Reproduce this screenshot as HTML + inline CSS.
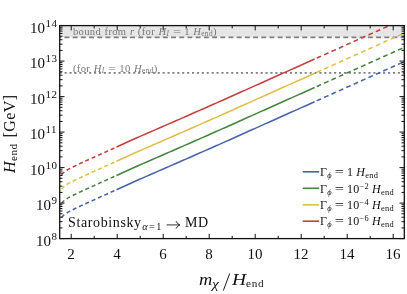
<!DOCTYPE html>
<html><head><meta charset="utf-8"><style>
html,body{margin:0;padding:0;background:#fff}
body{width:407px;height:294px;position:relative;overflow:hidden;font-family:"Liberation Serif",serif;color:#111}
.t{position:absolute;white-space:nowrap;line-height:1;transform-origin:0 0;will-change:transform}
.yt{font-size:15px}
.yt sup{font-size:11px;vertical-align:baseline;position:relative;top:-5.8px;left:0.6px;letter-spacing:0.3px}
.xt{font-size:15px;width:40px;text-align:center}
i{font-style:italic}
.eq{display:inline-block;transform:scaleX(1.35);margin:0 0.08em}
sub{font-size:70%;vertical-align:baseline;position:relative;top:0.2em}
sup.s{font-size:70%;vertical-align:baseline;position:relative;top:-0.45em}
.lg{font-size:12px;left:320.3px;letter-spacing:0.3px;word-spacing:-0.3px}
.an{font-size:10.6px;color:#777;letter-spacing:0.32px;word-spacing:0.5px}
</style></head><body>
<svg width="407" height="294" viewBox="0 0 407 294" style="position:absolute;left:0;top:0">
<defs><clipPath id="c"><rect x="59.7" y="25.6" width="344.6" height="213.0"/></clipPath></defs>
<rect x="59.7" y="25.6" width="344.6" height="11.799999999999997" fill="#e6e6e6"/>
<line x1="59.7" x2="404.3" y1="37.4" y2="37.4" stroke="#7f7f7f" stroke-width="1.6" stroke-dasharray="4.9 3.3" stroke-dashoffset="3.4"/>
<line x1="59.7" x2="404.3" y1="72.9" y2="72.9" stroke="#7f7f7f" stroke-width="1.8" stroke-dasharray="2.1 2.8"/>
<g clip-path="url(#c)" fill="none" stroke="#c4403f" stroke-width="1.55">
<polyline points="59.70,177.67 60.64,176.44 61.58,174.87 62.52,173.74 63.45,172.75 64.39,171.98 65.33,171.21 66.27,170.58 67.21,169.99 68.15,169.40 69.08,168.92 70.02,168.44 70.96,167.97 71.90,167.50 72.84,167.02 73.78,166.55 74.71,166.08 75.65,165.62 76.59,165.18 77.53,164.74 78.47,164.30 79.41,163.86 80.34,163.42 81.28,162.98 82.22,162.54 83.16,162.10 84.10,161.66 85.03,161.22 85.97,160.80 86.91,160.38 87.85,159.95 88.79,159.53 89.73,159.11 90.66,158.69 91.60,158.26 92.54,157.84 93.48,157.42 94.42,156.99 95.36,156.57 96.30,156.15 97.23,155.72 98.17,155.30 99.11,154.88 100.05,154.45 100.99,154.03 101.93,153.61 102.86,153.18 103.80,152.76 104.74,152.34 105.68,151.92 106.62,151.49 107.56,151.07 108.49,150.65 109.43,150.22 110.37,149.80 111.31,149.38 112.25,148.95 113.19,148.53 114.12,148.11 115.06,147.68 116.00,147.26" stroke-dasharray="4.05 2.9" stroke-dashoffset="3.69"/>
<polyline points="116.50,147.03 119.80,145.54 123.10,144.05 126.41,142.56 129.71,141.07 133.01,139.58 136.31,138.08 139.61,136.59 142.91,135.15 146.22,133.71 149.52,132.27 152.82,130.84 156.12,129.40 159.42,127.96 162.72,126.53 166.03,125.09 169.33,123.65 172.63,122.22 175.93,120.78 179.23,119.34 182.53,117.89 185.84,116.44 189.14,114.99 192.44,113.53 195.74,112.08 199.04,110.63 202.34,109.17 205.65,107.72 208.95,106.27 212.25,104.81 215.55,103.36 218.85,101.91 222.15,100.44 225.46,98.96 228.76,97.48 232.06,96.00 235.36,94.52 238.66,93.05 241.96,91.57 245.27,90.09 248.57,88.61 251.87,87.13 255.17,85.65 258.47,84.18 261.77,82.70 265.08,81.22 268.38,79.74 271.68,78.26 274.98,76.79 278.28,75.31 281.58,73.83 284.88,72.35 288.19,70.87 291.49,69.39 294.79,67.92 298.09,66.44 301.39,64.96 304.70,63.48 308.00,62.00 311.30,60.53 314.60,59.05"/>
<polyline points="314.60,59.05 316.10,58.38 317.59,57.71 319.09,57.04 320.58,56.37 322.08,55.70 323.57,55.03 325.06,54.36 326.56,53.69 328.06,53.02 329.55,52.35 331.05,51.69 332.54,51.02 334.04,50.35 335.53,49.68 337.03,49.01 338.52,48.34 340.02,47.67 341.51,47.00 343.00,46.33 344.50,45.66 346.00,44.99 347.49,44.32 348.99,43.65 350.48,42.98 351.98,42.31 353.47,41.65 354.97,40.98 356.46,40.31 357.96,39.64 359.45,38.97 360.95,38.30 362.44,37.63 363.94,36.96 365.43,36.29 366.93,35.62 368.42,34.95 369.92,34.28 371.41,33.61 372.91,32.94 374.40,32.28 375.89,31.61 377.39,30.94 378.88,30.27 380.38,29.60 381.88,28.93 383.37,28.26 384.87,27.59 386.36,26.92 387.86,26.25 389.35,25.58 390.85,24.91 392.34,24.24 393.84,23.57 395.33,22.90 396.82,22.24 398.32,21.57 399.81,20.90 401.31,20.23 402.81,19.56 404.30,18.89" stroke-dasharray="4.8 3.3" stroke-dashoffset="5.8"/>
</g>
<g clip-path="url(#c)" fill="none" stroke="#dfbf4c" stroke-width="1.55">
<polyline points="59.70,191.90 60.64,190.67 61.58,189.10 62.52,187.97 63.45,186.98 64.39,186.21 65.33,185.44 66.27,184.81 67.21,184.22 68.15,183.63 69.08,183.15 70.02,182.67 70.96,182.20 71.90,181.73 72.84,181.25 73.78,180.78 74.71,180.31 75.65,179.85 76.59,179.41 77.53,178.97 78.47,178.53 79.41,178.09 80.34,177.65 81.28,177.21 82.22,176.77 83.16,176.33 84.10,175.89 85.03,175.45 85.97,175.03 86.91,174.61 87.85,174.18 88.79,173.76 89.73,173.34 90.66,172.92 91.60,172.49 92.54,172.07 93.48,171.65 94.42,171.22 95.36,170.80 96.30,170.38 97.23,169.95 98.17,169.53 99.11,169.11 100.05,168.68 100.99,168.26 101.93,167.84 102.86,167.41 103.80,166.99 104.74,166.57 105.68,166.15 106.62,165.72 107.56,165.30 108.49,164.88 109.43,164.45 110.37,164.03 111.31,163.61 112.25,163.18 113.19,162.76 114.12,162.34 115.06,161.91 116.00,161.49" stroke-dasharray="4.05 2.9" stroke-dashoffset="3.69"/>
<polyline points="116.50,161.26 119.80,159.77 123.10,158.28 126.41,156.79 129.71,155.30 133.01,153.81 136.31,152.31 139.61,150.82 142.91,149.38 146.22,147.94 149.52,146.50 152.82,145.07 156.12,143.63 159.42,142.19 162.72,140.76 166.03,139.32 169.33,137.88 172.63,136.45 175.93,135.01 179.23,133.57 182.53,132.12 185.84,130.67 189.14,129.22 192.44,127.76 195.74,126.31 199.04,124.86 202.34,123.40 205.65,121.95 208.95,120.50 212.25,119.04 215.55,117.59 218.85,116.14 222.15,114.67 225.46,113.19 228.76,111.71 232.06,110.23 235.36,108.75 238.66,107.28 241.96,105.80 245.27,104.32 248.57,102.84 251.87,101.36 255.17,99.88 258.47,98.41 261.77,96.93 265.08,95.45 268.38,93.97 271.68,92.49 274.98,91.02 278.28,89.54 281.58,88.06 284.88,86.58 288.19,85.10 291.49,83.62 294.79,82.15 298.09,80.67 301.39,79.19 304.70,77.71 308.00,76.23 311.30,74.76 314.60,73.28"/>
<polyline points="314.60,73.28 316.10,72.61 317.59,71.94 319.09,71.27 320.58,70.60 322.08,69.93 323.57,69.26 325.06,68.59 326.56,67.92 328.06,67.25 329.55,66.58 331.05,65.92 332.54,65.25 334.04,64.58 335.53,63.91 337.03,63.24 338.52,62.57 340.02,61.90 341.51,61.23 343.00,60.56 344.50,59.89 346.00,59.22 347.49,58.55 348.99,57.88 350.48,57.21 351.98,56.54 353.47,55.88 354.97,55.21 356.46,54.54 357.96,53.87 359.45,53.20 360.95,52.53 362.44,51.86 363.94,51.19 365.43,50.52 366.93,49.85 368.42,49.18 369.92,48.51 371.41,47.84 372.91,47.17 374.40,46.51 375.89,45.84 377.39,45.17 378.88,44.50 380.38,43.83 381.88,43.16 383.37,42.49 384.87,41.82 386.36,41.15 387.86,40.48 389.35,39.81 390.85,39.14 392.34,38.47 393.84,37.80 395.33,37.13 396.82,36.47 398.32,35.80 399.81,35.13 401.31,34.46 402.81,33.79 404.30,33.12" stroke-dasharray="4.8 3.3" stroke-dashoffset="5.8"/>
</g>
<g clip-path="url(#c)" fill="none" stroke="#46853f" stroke-width="1.55">
<polyline points="59.70,206.13 60.64,204.90 61.58,203.33 62.52,202.20 63.45,201.21 64.39,200.44 65.33,199.67 66.27,199.04 67.21,198.45 68.15,197.86 69.08,197.38 70.02,196.90 70.96,196.43 71.90,195.96 72.84,195.48 73.78,195.01 74.71,194.54 75.65,194.08 76.59,193.64 77.53,193.20 78.47,192.76 79.41,192.32 80.34,191.88 81.28,191.44 82.22,191.00 83.16,190.56 84.10,190.12 85.03,189.68 85.97,189.26 86.91,188.84 87.85,188.41 88.79,187.99 89.73,187.57 90.66,187.15 91.60,186.72 92.54,186.30 93.48,185.88 94.42,185.45 95.36,185.03 96.30,184.61 97.23,184.18 98.17,183.76 99.11,183.34 100.05,182.91 100.99,182.49 101.93,182.07 102.86,181.64 103.80,181.22 104.74,180.80 105.68,180.38 106.62,179.95 107.56,179.53 108.49,179.11 109.43,178.68 110.37,178.26 111.31,177.84 112.25,177.41 113.19,176.99 114.12,176.57 115.06,176.14 116.00,175.72" stroke-dasharray="4.05 2.9" stroke-dashoffset="3.69"/>
<polyline points="116.50,175.49 119.80,174.00 123.10,172.51 126.41,171.02 129.71,169.53 133.01,168.04 136.31,166.54 139.61,165.05 142.91,163.61 146.22,162.17 149.52,160.73 152.82,159.30 156.12,157.86 159.42,156.42 162.72,154.99 166.03,153.55 169.33,152.11 172.63,150.68 175.93,149.24 179.23,147.80 182.53,146.35 185.84,144.90 189.14,143.45 192.44,141.99 195.74,140.54 199.04,139.09 202.34,137.63 205.65,136.18 208.95,134.73 212.25,133.27 215.55,131.82 218.85,130.37 222.15,128.90 225.46,127.42 228.76,125.94 232.06,124.46 235.36,122.98 238.66,121.51 241.96,120.03 245.27,118.55 248.57,117.07 251.87,115.59 255.17,114.11 258.47,112.64 261.77,111.16 265.08,109.68 268.38,108.20 271.68,106.72 274.98,105.25 278.28,103.77 281.58,102.29 284.88,100.81 288.19,99.33 291.49,97.85 294.79,96.38 298.09,94.90 301.39,93.42 304.70,91.94 308.00,90.46 311.30,88.99 314.60,87.51"/>
<polyline points="314.60,87.51 316.10,86.84 317.59,86.17 319.09,85.50 320.58,84.83 322.08,84.16 323.57,83.49 325.06,82.82 326.56,82.15 328.06,81.48 329.55,80.81 331.05,80.15 332.54,79.48 334.04,78.81 335.53,78.14 337.03,77.47 338.52,76.80 340.02,76.13 341.51,75.46 343.00,74.79 344.50,74.12 346.00,73.45 347.49,72.78 348.99,72.11 350.48,71.44 351.98,70.77 353.47,70.11 354.97,69.44 356.46,68.77 357.96,68.10 359.45,67.43 360.95,66.76 362.44,66.09 363.94,65.42 365.43,64.75 366.93,64.08 368.42,63.41 369.92,62.74 371.41,62.07 372.91,61.40 374.40,60.74 375.89,60.07 377.39,59.40 378.88,58.73 380.38,58.06 381.88,57.39 383.37,56.72 384.87,56.05 386.36,55.38 387.86,54.71 389.35,54.04 390.85,53.37 392.34,52.70 393.84,52.03 395.33,51.36 396.82,50.70 398.32,50.03 399.81,49.36 401.31,48.69 402.81,48.02 404.30,47.35" stroke-dasharray="4.8 3.3" stroke-dashoffset="5.8"/>
</g>
<g clip-path="url(#c)" fill="none" stroke="#4863a8" stroke-width="1.55">
<polyline points="59.70,220.36 60.64,219.13 61.58,217.56 62.52,216.43 63.45,215.44 64.39,214.67 65.33,213.90 66.27,213.27 67.21,212.68 68.15,212.09 69.08,211.61 70.02,211.13 70.96,210.66 71.90,210.19 72.84,209.71 73.78,209.24 74.71,208.77 75.65,208.31 76.59,207.87 77.53,207.43 78.47,206.99 79.41,206.55 80.34,206.11 81.28,205.67 82.22,205.23 83.16,204.79 84.10,204.35 85.03,203.91 85.97,203.49 86.91,203.07 87.85,202.64 88.79,202.22 89.73,201.80 90.66,201.38 91.60,200.95 92.54,200.53 93.48,200.11 94.42,199.68 95.36,199.26 96.30,198.84 97.23,198.41 98.17,197.99 99.11,197.57 100.05,197.14 100.99,196.72 101.93,196.30 102.86,195.87 103.80,195.45 104.74,195.03 105.68,194.61 106.62,194.18 107.56,193.76 108.49,193.34 109.43,192.91 110.37,192.49 111.31,192.07 112.25,191.64 113.19,191.22 114.12,190.80 115.06,190.37 116.00,189.95" stroke-dasharray="4.05 2.9" stroke-dashoffset="3.69"/>
<polyline points="116.50,189.72 119.80,188.23 123.10,186.74 126.41,185.25 129.71,183.76 133.01,182.27 136.31,180.77 139.61,179.28 142.91,177.84 146.22,176.40 149.52,174.96 152.82,173.53 156.12,172.09 159.42,170.65 162.72,169.22 166.03,167.78 169.33,166.34 172.63,164.91 175.93,163.47 179.23,162.03 182.53,160.58 185.84,159.13 189.14,157.68 192.44,156.22 195.74,154.77 199.04,153.32 202.34,151.86 205.65,150.41 208.95,148.96 212.25,147.50 215.55,146.05 218.85,144.60 222.15,143.13 225.46,141.65 228.76,140.17 232.06,138.69 235.36,137.21 238.66,135.74 241.96,134.26 245.27,132.78 248.57,131.30 251.87,129.82 255.17,128.34 258.47,126.87 261.77,125.39 265.08,123.91 268.38,122.43 271.68,120.95 274.98,119.48 278.28,118.00 281.58,116.52 284.88,115.04 288.19,113.56 291.49,112.08 294.79,110.61 298.09,109.13 301.39,107.65 304.70,106.17 308.00,104.69 311.30,103.22 314.60,101.74"/>
<polyline points="314.60,101.74 316.10,101.07 317.59,100.40 319.09,99.73 320.58,99.06 322.08,98.39 323.57,97.72 325.06,97.05 326.56,96.38 328.06,95.71 329.55,95.04 331.05,94.38 332.54,93.71 334.04,93.04 335.53,92.37 337.03,91.70 338.52,91.03 340.02,90.36 341.51,89.69 343.00,89.02 344.50,88.35 346.00,87.68 347.49,87.01 348.99,86.34 350.48,85.67 351.98,85.00 353.47,84.34 354.97,83.67 356.46,83.00 357.96,82.33 359.45,81.66 360.95,80.99 362.44,80.32 363.94,79.65 365.43,78.98 366.93,78.31 368.42,77.64 369.92,76.97 371.41,76.30 372.91,75.63 374.40,74.97 375.89,74.30 377.39,73.63 378.88,72.96 380.38,72.29 381.88,71.62 383.37,70.95 384.87,70.28 386.36,69.61 387.86,68.94 389.35,68.27 390.85,67.60 392.34,66.93 393.84,66.26 395.33,65.59 396.82,64.93 398.32,64.26 399.81,63.59 401.31,62.92 402.81,62.25 404.30,61.58" stroke-dasharray="4.8 3.3" stroke-dashoffset="5.8"/>
</g>
<path d="M71.20 238.6v-4.8M71.20 25.6v4.8M94.20 238.6v-2.8M94.20 25.6v2.8M117.20 238.6v-4.8M117.20 25.6v4.8M140.20 238.6v-2.8M140.20 25.6v2.8M163.20 238.6v-4.8M163.20 25.6v4.8M186.20 238.6v-2.8M186.20 25.6v2.8M209.20 238.6v-4.8M209.20 25.6v4.8M232.20 238.6v-2.8M232.20 25.6v2.8M255.20 238.6v-4.8M255.20 25.6v4.8M278.20 238.6v-2.8M278.20 25.6v2.8M301.20 238.6v-4.8M301.20 25.6v4.8M324.20 238.6v-2.8M324.20 25.6v2.8M347.20 238.6v-4.8M347.20 25.6v4.8M370.20 238.6v-2.8M370.20 25.6v2.8M393.20 238.6v-4.8M393.20 25.6v4.8M59.7 238.60h4.8M404.3 238.60h-4.8M59.7 227.91h2.8M404.3 227.91h-2.8M59.7 221.66h2.8M404.3 221.66h-2.8M59.7 217.23h2.8M404.3 217.23h-2.8M59.7 213.79h2.8M404.3 213.79h-2.8M59.7 210.98h2.8M404.3 210.98h-2.8M59.7 208.60h2.8M404.3 208.60h-2.8M59.7 206.54h2.8M404.3 206.54h-2.8M59.7 204.72h2.8M404.3 204.72h-2.8M59.7 203.10h4.8M404.3 203.10h-4.8M59.7 192.41h2.8M404.3 192.41h-2.8M59.7 186.16h2.8M404.3 186.16h-2.8M59.7 181.73h2.8M404.3 181.73h-2.8M59.7 178.29h2.8M404.3 178.29h-2.8M59.7 175.48h2.8M404.3 175.48h-2.8M59.7 173.10h2.8M404.3 173.10h-2.8M59.7 171.04h2.8M404.3 171.04h-2.8M59.7 169.22h2.8M404.3 169.22h-2.8M59.7 167.60h4.8M404.3 167.60h-4.8M59.7 156.91h2.8M404.3 156.91h-2.8M59.7 150.66h2.8M404.3 150.66h-2.8M59.7 146.23h2.8M404.3 146.23h-2.8M59.7 142.79h2.8M404.3 142.79h-2.8M59.7 139.98h2.8M404.3 139.98h-2.8M59.7 137.60h2.8M404.3 137.60h-2.8M59.7 135.54h2.8M404.3 135.54h-2.8M59.7 133.72h2.8M404.3 133.72h-2.8M59.7 132.10h4.8M404.3 132.10h-4.8M59.7 121.41h2.8M404.3 121.41h-2.8M59.7 115.16h2.8M404.3 115.16h-2.8M59.7 110.73h2.8M404.3 110.73h-2.8M59.7 107.29h2.8M404.3 107.29h-2.8M59.7 104.48h2.8M404.3 104.48h-2.8M59.7 102.10h2.8M404.3 102.10h-2.8M59.7 100.04h2.8M404.3 100.04h-2.8M59.7 98.22h2.8M404.3 98.22h-2.8M59.7 96.60h4.8M404.3 96.60h-4.8M59.7 85.91h2.8M404.3 85.91h-2.8M59.7 79.66h2.8M404.3 79.66h-2.8M59.7 75.23h2.8M404.3 75.23h-2.8M59.7 71.79h2.8M404.3 71.79h-2.8M59.7 68.98h2.8M404.3 68.98h-2.8M59.7 66.60h2.8M404.3 66.60h-2.8M59.7 64.54h2.8M404.3 64.54h-2.8M59.7 62.72h2.8M404.3 62.72h-2.8M59.7 61.10h4.8M404.3 61.10h-4.8M59.7 50.41h2.8M404.3 50.41h-2.8M59.7 44.16h2.8M404.3 44.16h-2.8M59.7 39.73h2.8M404.3 39.73h-2.8M59.7 36.29h2.8M404.3 36.29h-2.8M59.7 33.48h2.8M404.3 33.48h-2.8M59.7 31.10h2.8M404.3 31.10h-2.8M59.7 29.04h2.8M404.3 29.04h-2.8M59.7 27.22h2.8M404.3 27.22h-2.8M59.7 25.60h4.8M404.3 25.60h-4.8" stroke="#111" stroke-width="1.0" fill="none"/>
<rect x="59.7" y="25.6" width="344.6" height="213.0" fill="none" stroke="#111" stroke-width="1.3"/>
<line x1="302.7" x2="319.2" y1="171.8" y2="171.8" stroke="#4863a8" stroke-width="1.6"/>
<line x1="302.7" x2="319.2" y1="188.3" y2="188.3" stroke="#46853f" stroke-width="1.6"/>
<line x1="302.7" x2="319.2" y1="204.8" y2="204.8" stroke="#dfbf4c" stroke-width="1.6"/>
<line x1="302.7" x2="319.2" y1="221.2" y2="221.2" stroke="#c4403f" stroke-width="1.6"/>
<path d="M167 224.9H179.4M176.2 221.5Q177.3 224.1 179.9 224.9Q177.3 225.7 176.2 228.3" fill="none" stroke="#111" stroke-width="0.85" stroke-linecap="round"/>
<path d="M223.3 290.6L229.7 273.5" fill="none" stroke="#111" stroke-width="0.95"/>
</svg>
<div class="t yt" id="y8" style="right:350.4px;top:233.7px">10<sup>8</sup></div>
<div class="t yt" id="y9" style="right:350.4px;top:198.2px">10<sup>9</sup></div>
<div class="t yt" id="y10" style="right:350.4px;top:162.7px">10<sup>10</sup></div>
<div class="t yt" id="y11" style="right:350.4px;top:127.2px">10<sup>11</sup></div>
<div class="t yt" id="y12" style="right:350.4px;top:91.7px">10<sup>12</sup></div>
<div class="t yt" id="y13" style="right:350.4px;top:56.1px">10<sup>13</sup></div>
<div class="t yt" id="y14" style="right:350.4px;top:20.6px">10<sup>14</sup></div>
<div class="t xt" style="left:51.2px;top:246.7px">2</div>
<div class="t xt" style="left:97.2px;top:246.7px">4</div>
<div class="t xt" style="left:143.2px;top:246.7px">6</div>
<div class="t xt" style="left:189.2px;top:246.7px">8</div>
<div class="t xt" style="left:235.2px;top:246.7px">10</div>
<div class="t xt" style="left:281.2px;top:246.7px">12</div>
<div class="t xt" style="left:327.2px;top:246.7px">14</div>
<div class="t xt" style="left:373.2px;top:246.7px">16</div>
<div class="t lg" id="lg0" style="top:166.0px">Γ<sub><i>ϕ</i></sub> <span class="eq">=</span> 1 <i>H</i><sub>end</sub></div>
<div class="t lg" id="lg1" style="top:182.5px">Γ<sub><i>ϕ</i></sub> <span class="eq">=</span> 10<sup class="s">−2</sup> <i>H</i><sub>end</sub></div>
<div class="t lg" id="lg2" style="top:199.0px">Γ<sub><i>ϕ</i></sub> <span class="eq">=</span> 10<sup class="s">−4</sup> <i>H</i><sub>end</sub></div>
<div class="t lg" id="lg3" style="top:215.4px">Γ<sub><i>ϕ</i></sub> <span class="eq">=</span> 10<sup class="s">−6</sup> <i>H</i><sub>end</sub></div>
<div class="t an" id="a1" style="left:72.5px;top:26.6px">bound from <i>r</i> (for <i>H<sub>I</sub></i> <span class="eq">=</span> 1 <i>H</i><sub>end</sub>)</div>
<div class="t an" id="a2" style="left:73.4px;top:63.6px">(for <i>H<sub>I</sub></i> <span class="eq">=</span> 10 <i>H</i><sub>end</sub>)</div>
<div class="t" id="st" style="left:68.1px;top:216.2px;font-size:14px;letter-spacing:0.62px">Starobinsky<sub style="top:3.3px;font-size:10.2px;letter-spacing:1.5px;left:0.5px"><i>α</i>=1</sub></div>
<div class="t" id="md" style="left:185.4px;top:216.2px;font-size:14px;letter-spacing:0.5px">MD</div>
<div class="t" id="xm" style="left:199.3px;top:271.8px;font-size:16px;transform:scaleX(1.15)"><i>m</i></div>
<div class="t" id="xc" style="left:211.6px;top:277.2px;font-size:13.5px;transform:scaleX(1.15)"><i>χ</i></div>
<div class="t" id="xh" style="left:231.6px;top:271.8px;font-size:16px;transform:scaleX(1.22)"><i>H</i></div>
<div class="t" id="xe" style="left:245.6px;top:277.9px;font-size:11.2px;letter-spacing:0.75px">end</div>
<div class="t" id="yl" style="left:1.7px;top:172.6px;font-size:16px;letter-spacing:0.45px;word-spacing:1.5px;transform:rotate(-90deg);"><i>H</i><sub>end</sub> [GeV]</div>
</body></html>
